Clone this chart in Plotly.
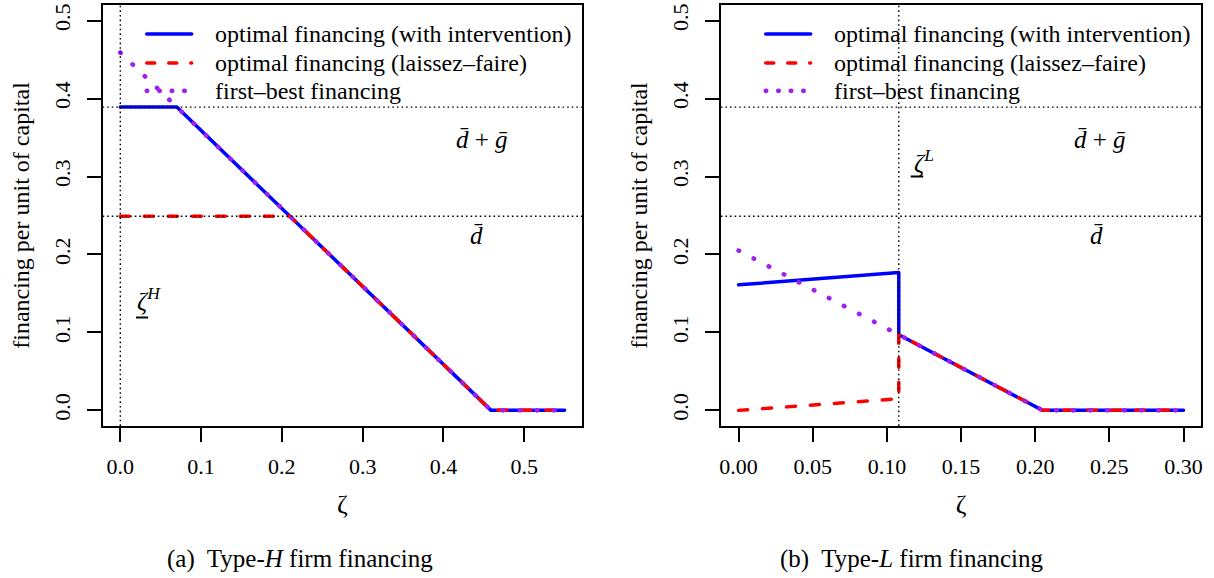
import plotly.graph_objects as go

# ---- reference levels -------------------------------------------------
d_bar = 0.249            # \bar d
d_bar_plus_g = 0.389     # \bar d + \bar g
zeta_H = 0.0             # threshold for type-H firms
zeta_L = 0.108           # threshold for type-L firms

# ---- panel (a): type-H firm ------------------------------------------
H_zeta_int = [0.0, 0.070, 0.459, 0.55]
H_fin_int = [0.389, 0.389, 0.0, 0.0]
H_zeta_lf = [0.0, 0.210, 0.459, 0.55]
H_fin_lf = [0.249, 0.249, 0.0, 0.0]
H_zeta_fb = [0.0, 0.459, 0.55]
H_fin_fb = [0.459, 0.0, 0.0]

# ---- panel (b): type-L firm ------------------------------------------
L_zeta_int = [0.0, 0.108, 0.108, 0.205, 0.30]
L_fin_int = [0.161, 0.177, 0.097, 0.0, 0.0]
L_zeta_lf = [0.0, 0.108, 0.108, 0.205, 0.30]
L_fin_lf = [0.0, 0.015, 0.097, 0.0, 0.0]
L_zeta_fb = [0.0, 0.205, 0.30]
L_fin_fb = [0.205, 0.0, 0.0]

# ---- axis ticks --------------------------------------------------------
y_ticks = [0.0, 0.1, 0.2, 0.3, 0.4, 0.5]
y_ticktext = ["0.0", "0.1", "0.2", "0.3", "0.4", "0.5"]
H_x_ticks = [0.0, 0.1, 0.2, 0.3, 0.4, 0.5]
H_x_ticktext = ["0.0", "0.1", "0.2", "0.3", "0.4", "0.5"]
L_x_ticks = [0.0, 0.05, 0.10, 0.15, 0.20, 0.25, 0.30]
L_x_ticktext = ["0.00", "0.05", "0.10", "0.15", "0.20", "0.25", "0.30"]

series_names = [
    "optimal financing (with intervention)",
    "optimal financing (laissez\u2013faire)",
    "first\u2013best financing",
]

FONT = "Liberation Serif, Times New Roman, Times, serif"
BLUE = "#0000FF"
RED = "#FF0000"
PURPLE = "#A020F0"

W, H = 1214, 578

# line styles (round caps are applied in the page script below)
series_styles = [
    dict(color=BLUE, width=3.5, dash="solid"),
    dict(color=RED, width=3.5, dash="9px,15px"),
    dict(color=PURPLE, width=4.6, dash="0.5px,16.5px"),
]
key_styles = [
    dict(color=BLUE, width=3.5, dash="solid"),
    dict(color=RED, width=3.5, dash="8px,14px"),
    dict(color=PURPLE, width=4.6, dash="0.5px,12px"),
]

fig = go.Figure()


def add_panel(xa, ya, xs, ys):
    for name, x, y, st in zip(series_names, xs, ys, series_styles):
        fig.add_trace(go.Scatter(
            x=x, y=y, mode="lines", name=name, line=st,
            xaxis=xa, yaxis=ya, showlegend=False, hoverinfo="skip",
        ))


add_panel("x", "y",
          [H_zeta_int, H_zeta_lf, H_zeta_fb], [H_fin_int, H_fin_lf, H_fin_fb])
add_panel("x2", "y2",
          [L_zeta_int, L_zeta_lf, L_zeta_fb], [L_fin_int, L_fin_lf, L_fin_fb])

# dotted reference lines
ref_line = dict(color="black", width=1.4, dash="1.6px,3px")
shapes = []
for xr, yr, zeta in (("x", "y", zeta_H), ("x2", "y2", zeta_L)):
    for level in (d_bar, d_bar_plus_g):
        shapes.append(dict(type="line", xref=xr + " domain", yref=yr,
                           x0=0, x1=1, y0=level, y1=level,
                           line=ref_line, layer="above"))
    shapes.append(dict(type="line", xref=xr, yref=yr + " domain",
                       x0=zeta, x1=zeta, y0=0, y1=1,
                       line=ref_line, layer="above"))

annotations = []

# legend of each panel: key line + label
legend_rows = [33, 62, 90]
for key_x0, text_x in ((146, 212), (766, 832)):
    for name, st, row in zip(series_names, key_styles, legend_rows):
        shapes.append(dict(type="line", xref="paper", yref="paper",
                           x0=key_x0 / W, x1=(key_x0 + 45) / W,
                           y0=1 - row / H, y1=1 - row / H, line=st))
        annotations.append(dict(
            x=text_x / W, y=1 - row / H, xref="paper", yref="paper",
            xanchor="left", yanchor="middle", text=name, showarrow=False,
            font=dict(family=FONT, size=24, color="black")))

# text labels inside the panels
math_font = dict(family=FONT, size=25, color="black")
labels = [
    dict(x=0.4475, y=0.348, xref="x", yref="y",
         text="<i>d\u0304</i> + <i>g\u0304</i>"),
    dict(x=0.441, y=0.224, xref="x", yref="y", text="<i>d\u0304</i>"),
    dict(x=0.036, y=0.143, xref="x", yref="y",
         text="<i>\u03b6<sup>H</sup></i>"),
    dict(x=0.244, y=0.348, xref="x2", yref="y2",
         text="<i>d\u0304</i> + <i>g\u0304</i>"),
    dict(x=0.241, y=0.224, xref="x2", yref="y2", text="<i>d\u0304</i>"),
    dict(x=0.125, y=0.320, xref="x2", yref="y2",
         text="<i>\u03b6<sup>L</sup></i>"),
]
for a in labels:
    a.update(showarrow=False, font=math_font,
             xanchor="center", yanchor="middle")
annotations += labels

# underline under the lower-bound zeta symbols
underline = dict(color="black", width=2)
for xr, yr, x0, x1, yl in (("x", "y", 0.0195, 0.0345, 0.119),
                           ("x2", "y2", 0.1160, 0.1245, 0.300)):
    shapes.append(dict(type="line", xref=xr, yref=yr,
                       x0=x0, x1=x1, y0=yl, y1=yl, line=underline))

# sub-figure captions
cap_font = dict(family=FONT, size=25, color="black")
annotations += [
    dict(x=299 / W, y=1 - 559 / H, xref="paper", yref="paper",
         xanchor="center", yanchor="middle",
         text="(a)  Type-<i>H</i> firm financing", showarrow=False,
         font=cap_font),
    dict(x=913 / W, y=1 - 559 / H, xref="paper", yref="paper",
         xanchor="center", yanchor="middle",
         text="(b)  Type-<i>L</i> firm financing", showarrow=False,
         font=cap_font),
]

tick_font = dict(family=FONT, size=22, color="black")
title_font = dict(family=FONT, size=24, color="black")
zeta_font = dict(family=FONT, size=26, color="black")

axis_common = dict(
    showgrid=False, zeroline=False, showline=True, mirror=True,
    linecolor="black", linewidth=1.5,
    ticks="outside", ticklen=14, tickwidth=1.5, tickcolor="black",
    tickfont=tick_font,
)

y_dom = [1 - 425.7 / H, 1 - 4.0 / H]

fig.update_layout(
    width=W, height=H,
    margin=dict(l=0, r=0, t=0, b=0),
    paper_bgcolor="white", plot_bgcolor="white",
    font=dict(family=FONT, color="black"),
    showlegend=False,
    xaxis=dict(domain=[101.7 / W, 582.3 / W], range=[-0.022, 0.572],
               tickvals=H_x_ticks, ticktext=H_x_ticktext,
               ticklabelstandoff=6,
               title=dict(text="\u03b6", font=zeta_font, standoff=17),
               anchor="y", **axis_common),
    yaxis=dict(domain=y_dom, range=[-0.02, 0.52],
               tickvals=y_ticks, ticktext=y_ticktext, tickangle=-90,
               ticklabelstandoff=8,
               title=dict(text="financing per unit of capital",
                          font=title_font, standoff=14),
               anchor="x", **axis_common),
    xaxis2=dict(domain=[721.0 / W, 1202.3 / W], range=[-0.012, 0.312],
                tickvals=L_x_ticks, ticktext=L_x_ticktext,
                ticklabelstandoff=6,
                title=dict(text="\u03b6", font=zeta_font, standoff=17),
                anchor="y2", **axis_common),
    yaxis2=dict(domain=y_dom, range=[-0.02, 0.52],
                tickvals=y_ticks, ticktext=y_ticktext, tickangle=-90,
                ticklabelstandoff=8,
                title=dict(text="financing per unit of capital",
                           font=title_font, standoff=14),
                anchor="x2", **axis_common),
    shapes=shapes,
    annotations=annotations,
)

# give the thick series lines round caps and joins
round_caps = """
var gd = document.getElementById('{plot_id}');
function roundCaps() {
  gd.querySelectorAll('path').forEach(function (p) {
    var w = parseFloat(p.style.strokeWidth || p.getAttribute('stroke-width'));
    if (w >= 3) {
      p.style.strokeLinecap = 'round';
      p.style.strokeLinejoin = 'round';
    }
  });
}
roundCaps();
gd.on('plotly_afterplot', roundCaps);
"""

fig.write_html("out.html", post_script=round_caps)
